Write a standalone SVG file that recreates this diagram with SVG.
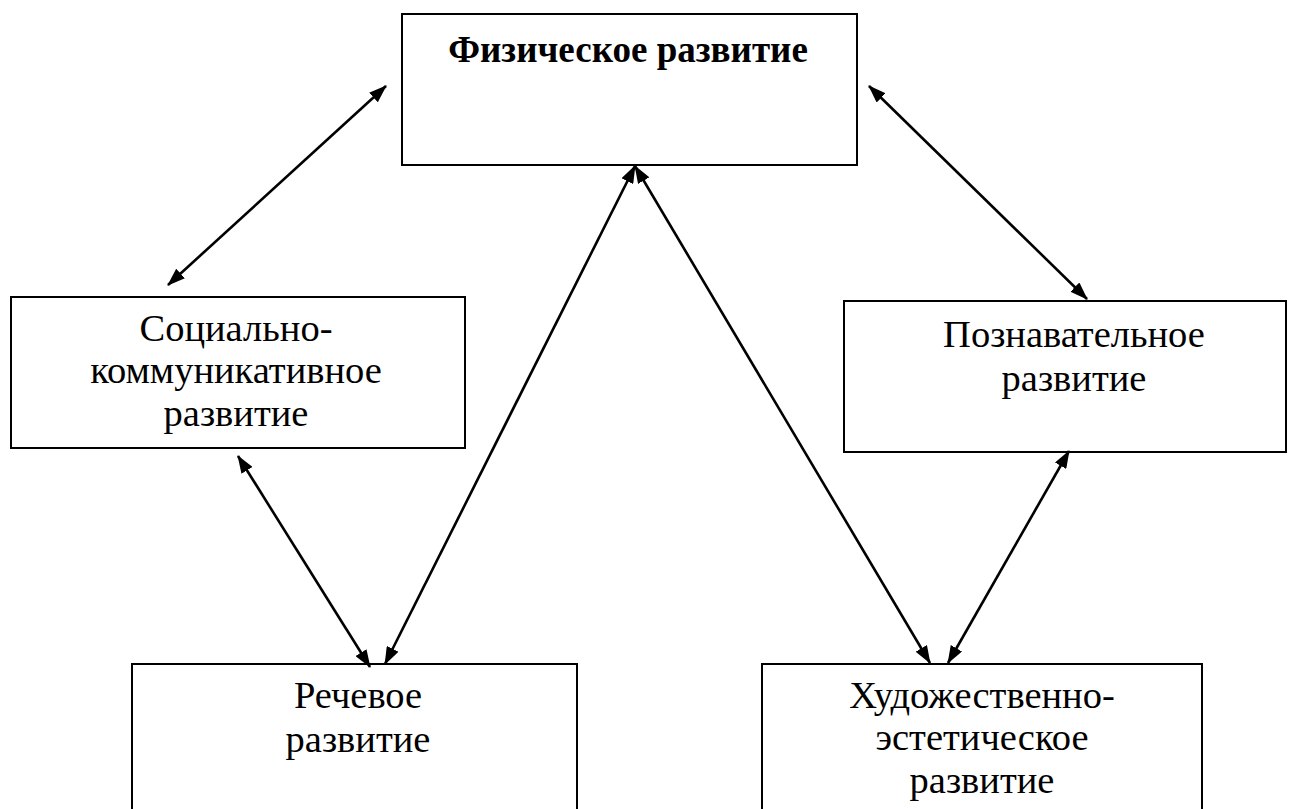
<svg xmlns="http://www.w3.org/2000/svg" width="1290" height="809" viewBox="0 0 1290 809">
<style>
.box{fill:#fff;stroke:#000;stroke-width:2}
.t{font-family:'Liberation Serif','DejaVu Serif',serif;font-size:38.5px;fill:#000;text-anchor:middle}
.b{font-weight:bold;font-size:37px}
.c{stroke:#000;stroke-width:2.6;fill:none;marker-start:url(#ah);marker-end:url(#ah)}
</style>
<defs>
<marker id="ah" viewBox="0 0 18 13" refX="17" refY="6.5" markerWidth="18" markerHeight="13" markerUnits="userSpaceOnUse" orient="auto-start-reverse">
<path d="M0,0 L18,6.5 L0,13 z" fill="#000"/>
</marker>
</defs>
<rect width="1290" height="809" fill="#fff"/>
<g id="n-phys">
<rect class="box" x="402" y="14" width="455" height="151"/>
<text class="t b" x="628" y="62">Физическое развитие</text>
</g>
<g id="n-social">
<rect class="box" x="11" y="297" width="454" height="151"/>
<text class="t" x="236" y="341">Социально-</text>
<text class="t" x="236" y="383">коммуникативное</text>
<text class="t" x="236" y="426">развитие</text>
</g>
<g id="n-cogn">
<rect class="box" x="844" y="301" width="442" height="151"/>
<text class="t" x="1074" y="347">Познавательное</text>
<text class="t" x="1074" y="391">развитие</text>
</g>
<g id="n-speech">
<rect class="box" x="132" y="664" width="445" height="160"/>
<text class="t" x="358" y="708">Речевое</text>
<text class="t" x="358" y="752">развитие</text>
</g>
<g id="n-art">
<rect class="box" x="762" y="664" width="440" height="160"/>
<text class="t" x="982" y="708">Художественно-</text>
<text class="t" x="982" y="750">эстетическое</text>
<text class="t" x="982" y="793">развитие</text>
</g>
<g id="connectors">
<line class="c" x1="386" y1="86" x2="168" y2="285"/>
<line class="c" x1="869" y1="86" x2="1087" y2="299"/>
<line class="c" x1="635" y1="166" x2="385" y2="664"/>
<line class="c" x1="635" y1="166" x2="930" y2="663"/>
<line class="c" x1="238" y1="456" x2="370" y2="667"/>
<line class="c" x1="1069" y1="451" x2="948" y2="663"/>
</g>
</svg>
